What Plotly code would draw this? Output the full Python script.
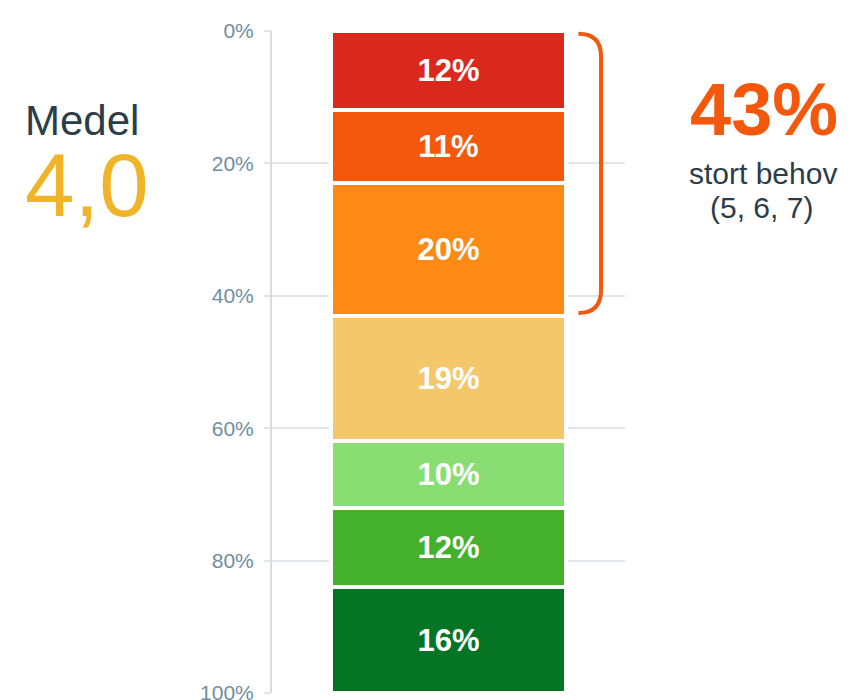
import plotly.graph_objects as go

# Share of answers per level, top (7) to bottom (1)
levels = ["7", "6", "5", "4", "3", "2", "1"]
shares = [12, 11, 20, 19, 10, 12, 16]
colors = ["#da291c", "#f4580d", "#fc8a14", "#f3c76a", "#88de73", "#44b02c", "#057425"]
tick_vals = [0, 20, 40, 60, 80, 100]
tick_text = ["0%", "20%", "40%", "60%", "80%", "100%"]

mean_value = "4,0"
high_need_share = sum(shares[:3])  # levels 5, 6, 7

fig = go.Figure()
for lvl, val, col in zip(levels, shares, colors):
    fig.add_trace(go.Bar(
        x=["all"], y=[val], name=lvl,
        marker=dict(color=col, line=dict(color="white", width=4)),
        width=0.668,
        text=[f"{val}%"], textposition="inside", insidetextanchor="middle",
        textfont=dict(color="white", size=31, family="Liberation Sans, Arial", weight="bold"),
        hoverinfo="skip",
    ))

grid_c = "#dfe5e9"
fig.update_layout(
    barmode="stack",
    width=854, height=700,
    margin=dict(l=272, r=229, t=31, b=7, autoexpand=False),
    plot_bgcolor="white", paper_bgcolor="white",
    showlegend=False,
    font=dict(family="Liberation Sans, Arial"),
    xaxis=dict(range=[-0.5, 0.5], showticklabels=False, showgrid=False, zeroline=False,
               showline=False, fixedrange=True, automargin=False),
    yaxis=dict(range=[100, 0], tickvals=tick_vals, ticktext=tick_text,
               showgrid=True, gridcolor=grid_c, gridwidth=1.5,
               zeroline=False, showline=True, linecolor="#d8dcdf", linewidth=2,
               ticks="outside", ticklen=6, tickcolor=grid_c, tickwidth=1.5,
               tickfont=dict(size=21, color="#6f8ea2"), ticklabelstandoff=6,
               ticklabeloverflow="allow", automargin=False),
)

# Bracket grouping the top three levels
top, bottom = 0.4, high_need_share - 0.4
x0, x1 = 0.868, 0.932
r = 3.4
fig.add_shape(
    type="path", xref="paper", yref="y",
    path=(f"M {x0},{top} Q {x1},{top} {x1},{top + r} "
          f"L {x1},{bottom - r} Q {x1},{bottom} {x0},{bottom}"),
    line=dict(color="#f4580d", width=4),
)

dark = "#2c3d48"
fig.add_annotation(x=-0.537, y=0.866, xref="paper", yref="paper", text="Medel",
                   showarrow=False, font=dict(size=42, color=dark), height=34,
                   xanchor="center", yanchor="middle")
fig.add_annotation(x=-0.524, y=0.767, xref="paper", yref="paper", text=mean_value,
                   showarrow=False, font=dict(size=89, color="#f0b429"), height=90,
                   xanchor="center", yanchor="middle")
fig.add_annotation(x=1.395, y=0.882, xref="paper", yref="paper",
                   text=f"<b>{high_need_share}%</b>",
                   showarrow=False, font=dict(size=74, color="#f4580d"),
                   xanchor="center", yanchor="middle")
fig.add_annotation(x=1.392, y=0.784, xref="paper", yref="paper", text="stort behov",
                   showarrow=False, font=dict(size=30, color=dark),
                   xanchor="center", yanchor="middle")
fig.add_annotation(x=1.388, y=0.733, xref="paper", yref="paper", text="(5, 6, 7)",
                   showarrow=False, font=dict(size=30, color=dark),
                   xanchor="center", yanchor="middle")

fig.write_html("out.html")
